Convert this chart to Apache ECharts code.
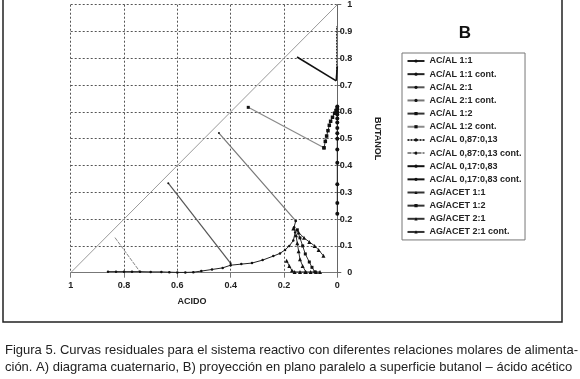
<!DOCTYPE html>
<html><head><meta charset="utf-8">
<script src="https://cdn.jsdelivr.net/npm/echarts@6/dist/echarts.min.js"></script>
<style>html,body{margin:0;padding:0;background:#fff}#c{width:580px;height:379px}</style>
</head><body><div id="c"></div>
<script>
// x = ACIDO fraction, y = BUTANOL fraction
const xTicks = [1, 0.8, 0.6, 0.4, 0.2, 0];
const yTicks = [0, 0.1, 0.2, 0.3, 0.4, 0.5, 0.6, 0.7, 0.8, 0.9, 1];
const diagonal = [[1, 0], [0, 1]];
const acal11 = [[0.86,0.004],[0.83,0.004],[0.80,0.004],[0.77,0.004],[0.74,0.004],[0.70,0.003],[0.66,0.003],[0.63,0.002],[0.60,0.001],[0.57,0.001],[0.54,0.002],[0.51,0.006],[0.47,0.012],[0.43,0.018],[0.40,0.028],[0.36,0.032],[0.32,0.036],[0.28,0.047],[0.24,0.062],[0.215,0.072],[0.196,0.085],[0.18,0.10],[0.165,0.12],[0.158,0.15],[0.162,0.17],[0.156,0.193]];
const acal11c = [[0,0.22],[0,0.26],[0,0.33],[0,0.41],[0,0.46],[0,0.50],[0,0.52],[0,0.54],[0,0.56],[0,0.575],[0,0.59],[0,0.60],[0,0.61],[0,0.62]];
const acal21 = [[0.634,0.334],[0.40,0.035]];
const acal21c = [[0.444,0.521],[0.156,0.193]];
const acal12 = [[0.05,0.466],[0.045,0.49],[0.04,0.51],[0.035,0.53],[0.03,0.55],[0.025,0.565],[0.018,0.58],[0.01,0.595],[0.005,0.605],[0.0,0.615]];
const acal12c = [[0.334,0.617],[0.05,0.466]];
const acal8713 = [[0.003,0.75],[0.003,0.83],[0.003,0.92]];
const acal8713c = [[0.834,0.131],[0.742,0.006]];
const acal1783 = [[0.151,0.805],[0.004,0.716]];
const acal1783c = [[0.004,0.716],[0.0,0.77]];
const agacet11 = [[0.165,0.165],[0.145,0.15],[0.125,0.13],[0.105,0.115],[0.085,0.10],[0.07,0.085],[0.052,0.063]];
const agacet12 = [[0.15,0.16],[0.14,0.13],[0.13,0.10],[0.12,0.07],[0.105,0.04],[0.095,0.02],[0.084,0.003]];
const agacet21 = [[0.155,0.14],[0.15,0.11],[0.145,0.08],[0.14,0.05],[0.13,0.025],[0.118,0.003]];
const agacet21c = [[0.19,0.045],[0.18,0.025],[0.17,0.008],[0.16,0.003],[0.14,0.003],[0.12,0.003],[0.10,0.003],[0.08,0.003],[0.065,0.003]];
const names = ['AC/AL 1:1','AC/AL 1:1 cont.','AC/AL 2:1','AC/AL 2:1 cont.','AC/AL 1:2','AC/AL 1:2 cont.','AC/AL 0,87:0,13','AC/AL 0,87:0,13 cont.','AC/AL 0,17:0,83','AC/AL 0,17:0,83 cont.','AG/ACET 1:1','AG/ACET 1:2','AG/ACET 2:1','AG/ACET 2:1 cont.'];
const captionLines = ['Figura 5. Curvas residuales para el sistema reactivo con diferentes relaciones molares de alimenta-','ción. A) diagrama cuaternario, B) proyección en plano paralelo a superficie butanol – ácido acético'];

function s(name, data, color, width, type, symbol, size) {
  return {name, type:'line', data, showSymbol: !!symbol, symbol: symbol || 'none', symbolSize: size || 3,
    lineStyle:{color, width, type: type || 'solid'}, itemStyle:{color:'#111'}, z:3, animation:false};
}
const series = [
  {name:'diag', type:'line', data: diagonal, showSymbol:false, symbol:'none', lineStyle:{color:'#9a9a9a', width:1}, animation:false, z:2},
  s(names[0], acal11, '#222', 1, 'solid', 'circle', 2.5),
  s(names[1], acal11c, '#222', 1, 'solid', 'circle', 4),
  s(names[2], acal21, '#555', 1.2, 'solid', 'circle', 2),
  s(names[3], acal21c, '#777', 1.2, 'solid', 'circle', 2),
  s(names[4], acal12, '#333', 1, 'solid', 'rect', 3.5),
  s(names[5], acal12c, '#8a8a8a', 1.2, 'solid', 'rect', 3),
  s(names[6], acal8713, '#333', 1, [2,1], null),
  s(names[7], acal8713c, '#888', 1, [4,1], null),
  s(names[8], acal1783, '#111', 1.6, 'solid', null),
  s(names[9], acal1783c, '#111', 1.6, 'solid', null),
  s(names[10], agacet11, '#333', 1, 'solid', 'triangle', 4),
  s(names[11], agacet12, '#333', 1, 'solid', 'rect', 3),
  s(names[12], agacet21, '#333', 1, 'solid', 'triangle', 4),
  s(names[13], agacet21c, '#333', 1, 'solid', 'triangle', 4)
];
const chart = echarts.init(document.getElementById('c'), null, {renderer:'canvas'});
chart.setOption({
  backgroundColor:'#fff',
  animation:false,
  title:{text:'B', left:460, top:20, textAlign:'center', textStyle:{fontFamily:'Liberation Sans', fontWeight:'bold', fontSize:17, color:'#111'}},
  legend:{data:names, orient:'vertical', left:402, top:53, itemWidth:17, itemHeight:4, itemGap:4.15,
    padding:[3.5,3.5,3.5,4.5], borderColor:'#777', borderWidth:1, backgroundColor:'#fff',
    textStyle:{fontFamily:'Liberation Sans', fontWeight:'bold', fontSize:9, color:'#222', lineHeight:9, height:9}},
  grid:{left:70.7, right:242.7, top:4.7, bottom:106.3, containLabel:false},
  xAxis:{type:'value', min:0, max:1, interval:0.2, inverse:true, position:'bottom',
    name:'ACIDO', nameLocation:'middle', nameGap:24,
    nameTextStyle:{fontFamily:'Liberation Sans', fontWeight:'bold', fontSize:9, color:'#222', padding:[0,24,0,0]},
    axisLine:{show:true, lineStyle:{color:'#777', width:1}},
    axisTick:{show:true, length:5, lineStyle:{color:'#777'}},
    axisLabel:{margin:8, fontFamily:'Liberation Sans', fontWeight:'bold', fontSize:9, color:'#222',
      formatter: v => { const t = xTicks.find(k => Math.abs(k - v) < 1e-9); return t === undefined ? '' : String(t); }},
    splitLine:{show:true, lineStyle:{color:'#555', type:[2,2], width:1}}},
  yAxis:{type:'value', min:0, max:1, interval:0.1, position:'right',
    name:'BUTANOL', nameLocation:'middle', nameGap:36, nameRotate:-90,
    nameTextStyle:{fontFamily:'Liberation Sans', fontWeight:'bold', fontSize:9, color:'#222'},
    axisLine:{show:true, lineStyle:{color:'#666', width:1}},
    axisTick:{show:true, length:4, lineStyle:{color:'#666'}},
    axisLabel:{margin:15, align:'right', fontFamily:'Liberation Sans', fontWeight:'bold', fontSize:9, color:'#222',
      formatter: v => { const t = yTicks.find(k => Math.abs(k - v) < 1e-9); return t === undefined ? '' : String(t); }},
    splitLine:{show:true, lineStyle:{color:'#555', type:[2,2], width:1}}},
  series,
  graphic:[
    {type:'rect', shape:{x:3, y:-5, width:559, height:327}, style:{fill:'none', stroke:'#222', lineWidth:1.5}, silent:true},
    {type:'text', x:5, y:350, style:{text:captionLines[0], fontFamily:'Liberation Sans', fontSize:13, fill:'#222', textVerticalAlign:'middle'}},
    {type:'text', x:5, y:367, style:{text:captionLines[1], fontFamily:'Liberation Sans', fontSize:13, fill:'#222', textVerticalAlign:'middle'}}
  ]
});
</script></body></html>
